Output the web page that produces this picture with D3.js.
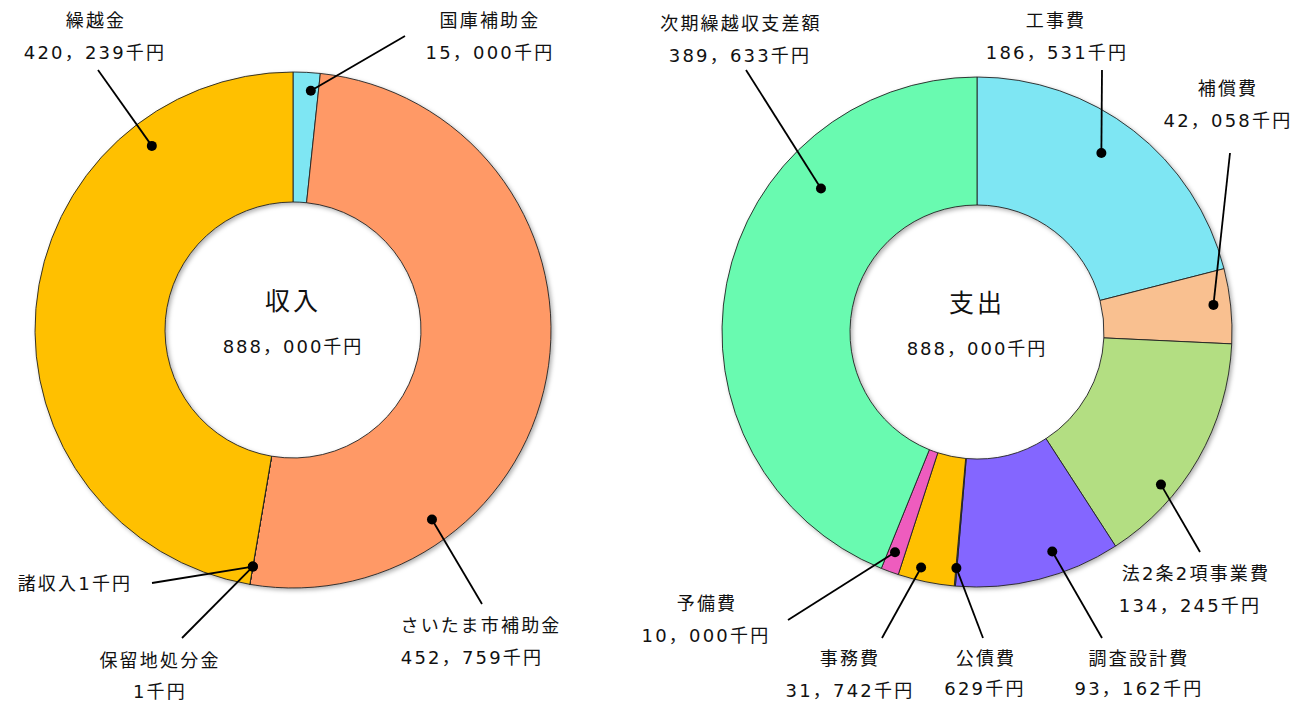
<!DOCTYPE html>
<html><head><meta charset="utf-8">
<script src="https://cdn.jsdelivr.net/npm/d3@7"></script>
<style>
html,body{margin:0;padding:0;background:#fff;}
text{font-family:"DejaVu Sans","Noto Sans CJK JP",sans-serif;fill:#111;}
</style></head>
<body>
<svg id="chart" width="1297" height="709"></svg>
<script>
// ---- data ----
const incomeCategories = ["国庫補助金","さいたま市補助金","保留地処分金","諸収入","繰越金"];
const incomeValues = [15000,452759,1,1,420239];
const incomeColors = ["#7EE6F3","#FF9966","#FF9966","#FFC000","#FFC000"];
const incomeTitle = "収入";
const incomeTotal = 888000;

const expenseCategories = ["工事費","補償費","法2条2項事業費","調査設計費","公債費","事務費","予備費","次期繰越収支差額"];
const expenseValues = [186531,42058,134245,93162,629,31742,10000,389633];
const expenseColors = ["#7EE6F3","#F9C090","#B3DE82","#8466FF","#3366CC","#FFC000","#EE5CBE","#69FAB0"];
const expenseTitle = "支出";
const expenseTotal = 888000;

// ---- layout (annotation placement) ----
const incomeLayout = [
  {t:0.7, r:240, lines:[[490,20],[490,52]], end:[405,36]},
  {t:0.75, r:235, lines:[[481,625],[472,657]], end:[482,604]},
  {t:0.2, r:240, lines:[[160,660],[160,691]], end:[182,638]},
  {t:0.5, r:240, lines:[[75,583]], end:[152,583], single:true},
  {t:0.78, r:232, lines:[[96,20],[95,52]], end:[98,70]}
];
const expenseLayout = [
  {t:0.46, r:218, lines:[[1056,20],[1057,52]], end:[1102,70]},
  {t:0.46, r:238, lines:[[1228,88],[1228,120]], end:[1230,153]},
  {t:0.68, r:239, lines:[[1196,573],[1190,605]], end:[1200,552]},
  {t:0.37, r:232, lines:[[1139,658],[1139,688]], end:[1102,638]},
  {t:0.5, r:237, lines:[[986,658],[985,688]], end:[983,638]},
  {t:0.64, r:242, lines:[[850,658],[850,690]], end:[882,638]},
  {t:0.6, r:235, lines:[[707,603],[706,635]], end:[788,620]},
  {t:0.70, r:212, lines:[[741,23],[740,55]], end:[746,70]}
];

const fmt = v => d3.format(",")(v).replace(/,/g,"，") + "千円";

const svg = d3.select("#chart");
const defs = svg.append("defs");
const f = defs.append("filter").attr("id","shadow").attr("x","-10%").attr("y","-10%").attr("width","120%").attr("height","120%");
f.append("feDropShadow").attr("dx",2).attr("dy",2).attr("stdDeviation",2).attr("flood-color","#000").attr("flood-opacity",0.3);

function drawDonut(cx, cy, R, r0, cats, vals, colors, layout, title, total){
  const pie = d3.pie().sort(null).value(d=>d.v);
  const arcs = pie(vals.map((v,i)=>({v, c:cats[i], col:colors[i]})));
  const arc = d3.arc().innerRadius(r0).outerRadius(R);
  const g = svg.append("g").attr("transform",`translate(${cx},${cy})`);
  const gs = g.append("g").attr("filter","url(#shadow)");
  gs.selectAll("path").data(arcs).join("path")
    .attr("d",arc)
    .attr("fill",d=>d.data.col)
    .attr("stroke","#222").attr("stroke-width",0.9);

  g.append("text").attr("x",0).attr("y",-29).attr("text-anchor","middle")
    .attr("dominant-baseline","central").attr("font-size",25)
    .attr("letter-spacing",3).text(title);
  g.append("text").attr("x",0).attr("y",16).attr("text-anchor","middle")
    .attr("dominant-baseline","central").attr("font-size",18)
    .attr("letter-spacing",2).text(fmt(total));

  // leader lines and labels
  arcs.forEach((d,i)=>{
    const L = layout[i];
    const a = d.startAngle + (d.endAngle - d.startAngle)*L.t;
    const p = d3.arc().innerRadius(L.r).outerRadius(L.r).centroid({startAngle:a,endAngle:a});
    const px = cx + p[0], py = cy + p[1];
    svg.append("line").attr("x1",L.end[0]).attr("y1",L.end[1]).attr("x2",px).attr("y2",py)
      .attr("stroke","#000").attr("stroke-width",1.8);
    svg.append("circle").attr("cx",px).attr("cy",py).attr("r",5).attr("fill","#000");
    const texts = L.single ? [d.data.c + fmt(d.data.v)] : [d.data.c, fmt(d.data.v)];
    texts.forEach((s,j)=>{
      svg.append("text").attr("x",L.lines[j][0]).attr("y",L.lines[j][1])
        .attr("text-anchor","middle").attr("dominant-baseline","central")
        .attr("font-size",18).attr("letter-spacing",2.2).text(s);
    });
  });
}

drawDonut(293, 330, 258, 128, incomeCategories, incomeValues, incomeColors, incomeLayout, incomeTitle, incomeTotal);
drawDonut(977, 332, 255, 127, expenseCategories, expenseValues, expenseColors, expenseLayout, expenseTitle, expenseTotal);
</script>
</body></html>
